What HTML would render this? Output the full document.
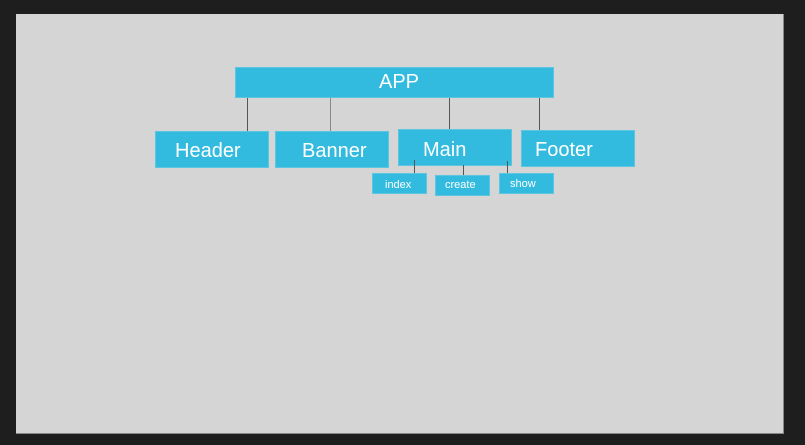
<!DOCTYPE html>
<html><head><meta charset="utf-8"><style>
html,body{margin:0;padding:0;width:805px;height:445px;background:#1e1e1e;overflow:hidden;font-family:"Liberation Sans",sans-serif}
.c{position:absolute;left:16px;top:14px;width:767px;height:419px;background:#d5d5d5;border-right:1px solid #888;border-bottom:1px solid #888}
.b{position:absolute;background:#33bbdf;border:1px solid #5cc6e0;box-sizing:border-box;color:#fff;white-space:nowrap}
.l{position:absolute;width:1px;background:#555}
</style></head><body>
<div class="c"></div>
<div class="l" style="left:247px;top:98px;height:33px"></div>
<div class="l" style="left:330px;top:98px;height:33px;background:#888"></div>
<div class="l" style="left:449px;top:97px;height:32px"></div>
<div class="l" style="left:539px;top:98px;height:32px"></div>
<div class="b" style="left:235px;top:67px;width:319px;height:31px;font-size:20px;line-height:29px;text-align:center;padding-left:9px">APP</div>
<div class="b" style="left:155px;top:131px;width:114px;height:37px;font-size:20px;line-height:39px;padding-left:19px">Header</div>
<div class="b" style="left:275px;top:131px;width:114px;height:37px;font-size:20px;line-height:39px;padding-left:26px">Banner</div>
<div class="b" style="left:398px;top:129px;width:114px;height:37px;font-size:20px;line-height:41px;padding-left:24px">Main</div>
<div class="b" style="left:521px;top:130px;width:114px;height:37px;font-size:20px;line-height:38px;padding-left:13px">Footer</div>
<div class="b" style="left:372px;top:173px;width:55px;height:21px;font-size:11px;line-height:22px;padding-left:12px">index</div>
<div class="b" style="left:435px;top:175px;width:55px;height:21px;font-size:11px;line-height:18px;padding-left:9px">create</div>
<div class="b" style="left:499px;top:173px;width:55px;height:21px;font-size:11px;line-height:20px;padding-left:10px">show</div>
<div class="l" style="left:414px;top:160px;height:13px"></div>
<div class="l" style="left:463px;top:165px;height:10px"></div>
<div class="l" style="left:507px;top:161px;height:12px"></div>
</body></html>
